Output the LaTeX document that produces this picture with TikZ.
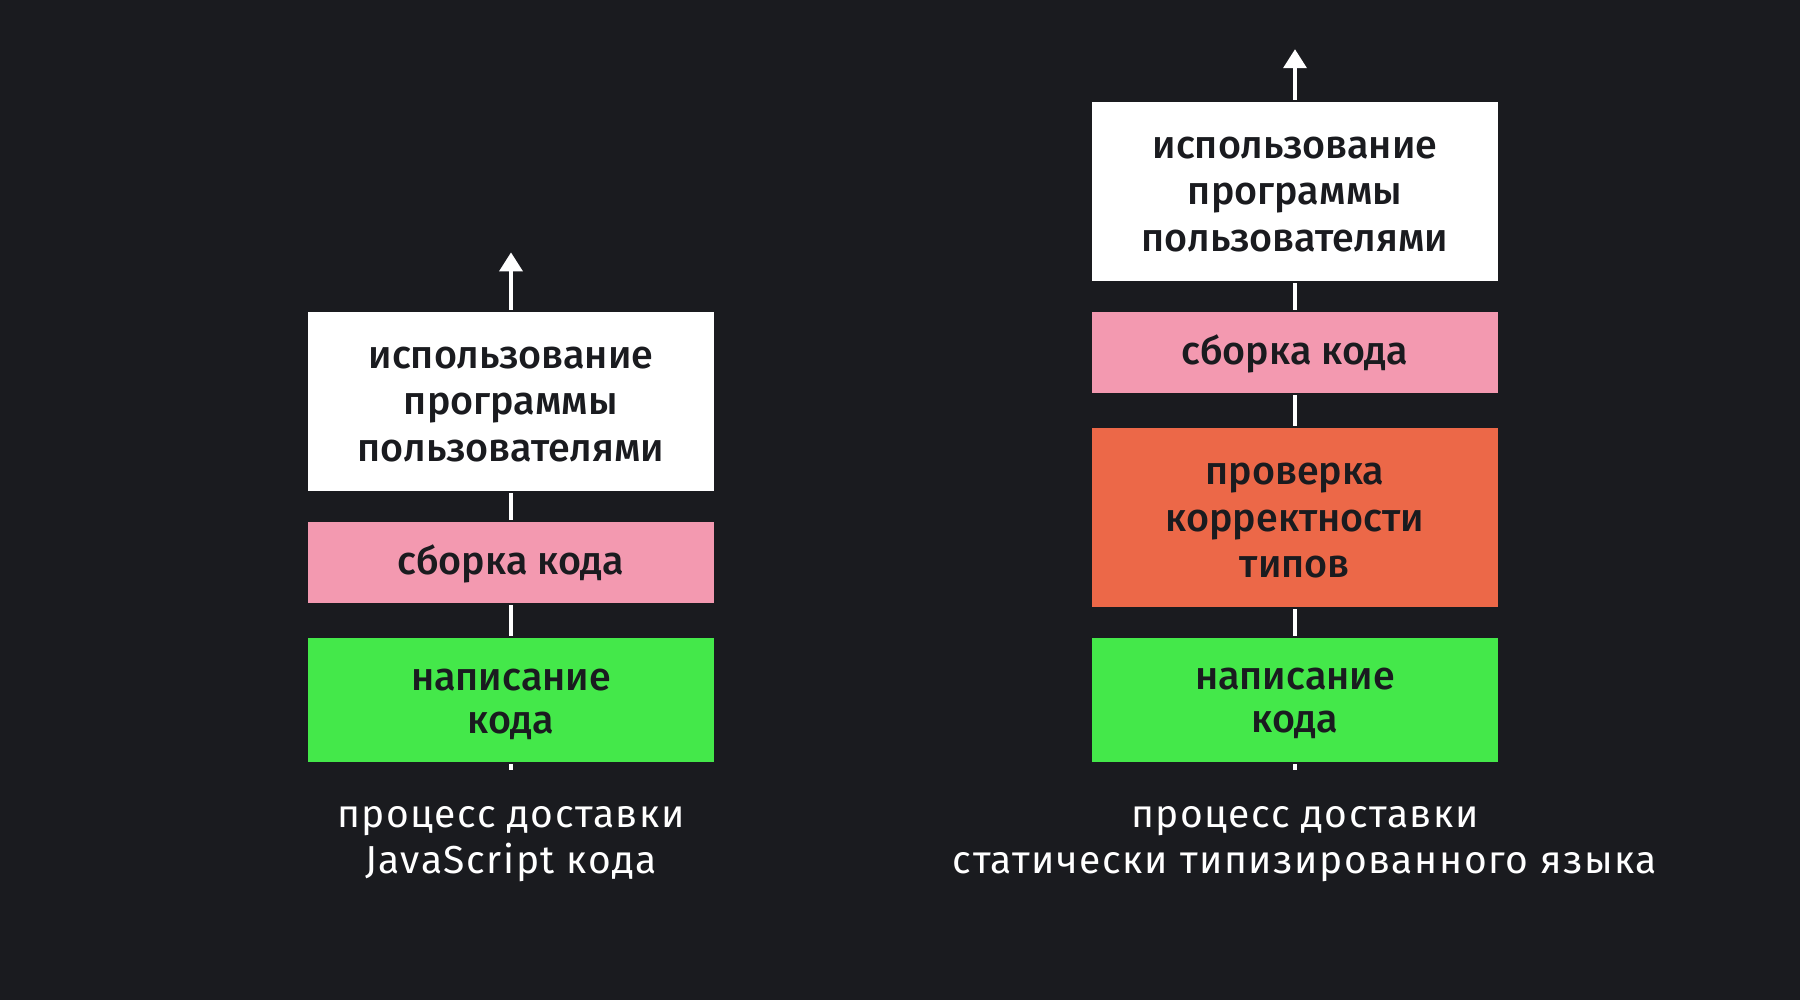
\documentclass[tikz,border=0pt]{standalone}
\usepackage{fontspec}
\usetikzlibrary{arrows.meta}
\IfFontExistsTF{Fira Sans Medium}{\newfontfamily\boxfont{Fira Sans Medium}}{\newfontfamily\boxfont{Fira Sans}[FakeBold=1.5]}
\newfontfamily\capfont{Fira Sans}[LetterSpace=4]
\definecolor{bg}{HTML}{1A1B1F}
\definecolor{pinkc}{HTML}{F399B0}
\definecolor{orangec}{HTML}{EC6848}
\definecolor{greenc}{HTML}{44E84A}
\definecolor{ink}{HTML}{1A1B1F}
\tikzset{
  stage/.style={minimum width=406pt, inner sep=0pt, outer sep=0pt, align=center, text=ink,
    text depth=0pt, font=\boxfont\fontsize{39.5}{46.5}\selectfont},
  tall/.style={minimum height=178.7pt, text height=120pt},
  flat/.style={minimum height=80.6pt, text height=25pt},
  mid/.style={minimum height=124pt, text height=66pt, font=\boxfont\fontsize{39.5}{43}\selectfont},
  conn/.style={draw=white, line width=3.7pt, shorten <=2.2pt, shorten >=2.2pt},
  arr/.style={conn, -{Triangle[width=23pt,length=19pt]}, shorten >=0pt},
  caption/.style={align=center, text=white, font=\capfont\fontsize{39}{46}\selectfont}
}
\begin{document}
\begin{tikzpicture}[x=1pt,y=-1pt]
\fill[bg] (0,0) rectangle (1800,1000);
\useasboundingbox (0,0) rectangle (1800,1000);
% left column
\node[stage, tall, fill=white] (lw) at (511,401.35) {использование\\программы\\пользователями};
\node[stage, flat, fill=pinkc] (lp) at (511,562.3) {сборка кода};
\node[stage, mid, fill=greenc] (lg) at (511,700.1) {написание\\кода};
\coordinate (lb) at (511,772);
\coordinate (lt) at (511,252.4);
\draw[conn] (lb) -- (lg.south);
\draw[conn] (lg) -- (lp);
\draw[conn] (lp) -- (lw);
\draw[arr] (lw) -- (lt);
\node[caption, anchor=base] (lc) at (511,873.5) {процесс доставки\\JavaScript кода};
% right column
\node[stage, tall, fill=white] (rw) at (1295,191.45) {использование\\программы\\пользователями};
\node[stage, flat, fill=pinkc] (rp) at (1295,352.2) {сборка кода};
\node[stage, tall, fill=orangec, text height=121pt] (ro) at (1295,517.35) {проверка\\корректности\\типов};
\node[stage, mid, fill=greenc] (rg) at (1295,699.85) {написание\\кода};
\coordinate (rb) at (1295,772);
\coordinate (rt) at (1295,49.2);
\draw[conn] (rb) -- (rg.south);
\draw[conn] (rg) -- (ro);
\draw[conn] (ro) -- (rp);
\draw[conn] (rp) -- (rw);
\draw[arr] (rw) -- (rt);
\node[caption, anchor=base] (rc) at (1305,873.5) {процесс доставки\\статически типизированного языка};
\end{tikzpicture}
\end{document}
